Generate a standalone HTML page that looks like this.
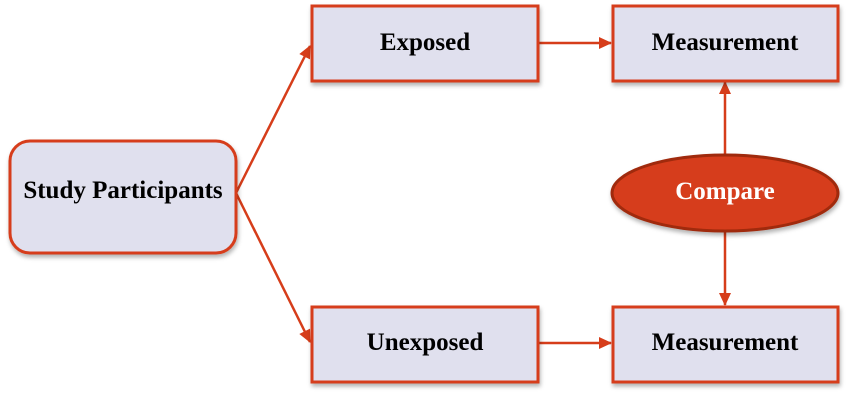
<!DOCTYPE html>
<html><head><style>body{margin:0;background:#fff}</style></head><body>
<svg width="847" height="402" viewBox="0 0 847 402" xmlns="http://www.w3.org/2000/svg" font-family="Liberation Serif, serif" font-weight="bold" font-size="25">
<defs>
<marker id="a" markerWidth="13" markerHeight="12" refX="12" refY="6" orient="auto" markerUnits="userSpaceOnUse"><path d="M0,0 L13,6 L0,12 z" fill="#d63d1a"/></marker>
<filter id="s" x="-10%" y="-10%" width="120%" height="130%"><feDropShadow dx="1" dy="3" stdDeviation="2" flood-opacity="0.3"/></filter>
</defs>
<g stroke="#d63d1a" stroke-width="2.5" fill="none">
<line x1="236" y1="193" x2="310" y2="46" marker-end="url(#a)"/>
<line x1="236" y1="193" x2="310" y2="342" marker-end="url(#a)"/>
<line x1="538" y1="43" x2="611" y2="43" marker-end="url(#a)"/>
<line x1="538" y1="343" x2="611" y2="343" marker-end="url(#a)"/>
<line x1="725" y1="156" x2="725" y2="82" marker-end="url(#a)"/>
<line x1="725" y1="230" x2="725" y2="305" marker-end="url(#a)"/>
</g>
<g fill="#e0e0ee" stroke="#d63d1a" stroke-width="3" filter="url(#s)">
<rect x="10" y="141" width="226" height="112" rx="20"/>
<rect x="312" y="6" width="226" height="75"/>
<rect x="613" y="6" width="225" height="75"/>
<rect x="312" y="307" width="226" height="75"/>
<rect x="613" y="307" width="225" height="75"/>
<ellipse cx="725" cy="193" rx="113" ry="38" fill="#d63d1a" stroke="#a02a0c"/>
</g>
<g text-anchor="middle" fill="#000">
<text x="123" y="198">Study Participants</text>
<text x="425" y="50">Exposed</text>
<text x="725" y="50">Measurement</text>
<text x="425" y="350">Unexposed</text>
<text x="725" y="350">Measurement</text>
<text x="725" y="199" fill="#fff">Compare</text>
</g>
</svg>
</body></html>
